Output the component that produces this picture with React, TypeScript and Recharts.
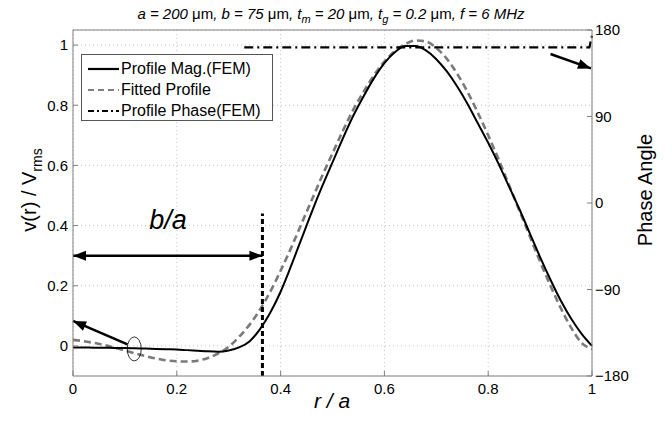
import React from 'react';
import {
  ComposedChart, Line, XAxis, YAxis, CartesianGrid, ReferenceLine, ReferenceDot, Legend,
} from 'recharts';

const FONT = '"Liberation Sans", Arial, sans-serif';

// radial position r/a
const xs = [
  0, 0.02, 0.04, 0.06, 0.08, 0.1, 0.12, 0.14, 0.16, 0.18,
  0.2, 0.22, 0.24, 0.26, 0.28, 0.3, 0.32, 0.34, 0.36, 0.38,
  0.4, 0.42, 0.44, 0.46, 0.48, 0.5, 0.52, 0.54, 0.56, 0.58,
  0.6, 0.62, 0.64, 0.66, 0.68, 0.7, 0.72, 0.74, 0.76, 0.78,
  0.8, 0.82, 0.84, 0.86, 0.88, 0.9, 0.92, 0.94, 0.96, 0.98, 1,
];

// Profile Mag.(FEM)
const mag = [
  -0.005, -0.005, -0.006, -0.006, -0.007, -0.007, -0.008, -0.009, -0.01, -0.011,
  -0.012, -0.014, -0.016, -0.018, -0.019, -0.015, -0.005, 0.015, 0.055, 0.11,
  0.18, 0.265, 0.355, 0.445, 0.53, 0.61, 0.69, 0.765, 0.83, 0.89,
  0.94, 0.976, 0.997, 0.997, 0.982, 0.953, 0.913, 0.863, 0.805, 0.74,
  0.675, 0.605, 0.53, 0.455, 0.375, 0.295, 0.22, 0.15, 0.09, 0.04, 0,
];

// Fitted Profile
const fit = [
  0.02, 0.016, 0.01, 0.003, -0.006, -0.015, -0.025, -0.034, -0.042, -0.048,
  -0.051, -0.052, -0.049, -0.04, -0.025, -0.003, 0.03, 0.07, 0.12, 0.18,
  0.25, 0.325, 0.405, 0.485, 0.565, 0.64, 0.715, 0.785, 0.845, 0.9,
  0.945, 0.98, 1.003, 1.015, 1.012, 0.99, 0.955, 0.905, 0.845, 0.775,
  0.7, 0.62, 0.535, 0.45, 0.365, 0.28, 0.2, 0.125, 0.06, 0.01, -0.01,
];

// Profile Phase(FEM), degrees
const phaseX = [0.33, 0.5, 0.7, 0.9, 0.995, 1];
const phase = [162, 162, 162, 162, 162, 174];

const xTicks = [0, 0.2, 0.4, 0.6, 0.8, 1];
const leftTicks = [0, 0.2, 0.4, 0.6, 0.8, 1];
const rightTicks = [-180, -90, 0, 90, 180];

const magData = xs.map((x, i) => ({ x, v: mag[i] }));
const fitData = xs.map((x, i) => ({ x, v: fit[i] }));
const phaseData = phaseX.map((x, i) => ({ x, v: phase[i] }));

const BOA = 0.365; // b/a marker

function head(x1: number, y1: number, x2: number, y2: number) {
  const a = Math.atan2(y2 - y1, x2 - x1);
  const L = 13, w = 5;
  const bx = x2 - L * Math.cos(a), by = y2 - L * Math.sin(a);
  const px = -Math.sin(a) * w, py = Math.cos(a) * w;
  return `${x2},${y2} ${bx + px},${by + py} ${bx - px},${by - py}`;
}

function arrow(both: boolean) {
  return (p: any) => {
    const { x1, y1, x2, y2 } = p;
    return (
      <g>
        <line x1={x1} y1={y1} x2={x2} y2={y2} stroke="#000" strokeWidth={2.5} />
        <polygon points={head(x1, y1, x2, y2)} fill="#000" />
        {both && <polygon points={head(x2, y2, x1, y1)} fill="#000" />}
      </g>
    );
  };
}

function LegendBox() {
  const rows = [
    { name: 'Profile Mag.(FEM)', color: '#000', dash: undefined as string | undefined },
    { name: 'Fitted Profile', color: '#808080', dash: '6 4' },
    { name: 'Profile Phase(FEM)', color: '#000', dash: '6 3 2 3' },
  ];
  return (
    <div style={{
      width: 192, height: 67, border: '1px solid #555', background: '#fff',
      padding: '3px 0 0 5px', boxSizing: 'border-box', fontFamily: FONT, fontSize: 16,
    }}>
      {rows.map(r => (
        <div key={r.name} style={{ display: 'flex', alignItems: 'center', height: 21 }}>
          <svg width={33} height={10} style={{ marginRight: 1 }}>
            <line x1={1} y1={5} x2={32} y2={5} stroke={r.color} strokeWidth={2.2} strokeDasharray={r.dash} />
          </svg>
          <span style={{ color: '#000' }}>{r.name}</span>
        </div>
      ))}
    </div>
  );
}

export default function App() {
  return (
    <div style={{ position: 'absolute', left: 0, top: 0, width: 672, height: 424, background: '#fff', fontFamily: FONT }}>
      <div style={{
        position: 'absolute', left: 0, top: 5, width: 662, textAlign: 'center',
        fontSize: 15, lineHeight: '17px', fontStyle: 'italic', color: '#000', zIndex: 2,
      }}>
        a = 200 <span style={{ fontStyle: 'normal' }}>μm</span>, b = 75 <span style={{ fontStyle: 'normal' }}>μm</span>,
        t<sub style={{ fontSize: 11 }}>m</sub> = 20 <span style={{ fontStyle: 'normal' }}>μm</span>,
        t<sub style={{ fontSize: 11 }}>g</sub> = 0.2 <span style={{ fontStyle: 'normal' }}>μm</span>, f = 6 MHz
      </div>
      <ComposedChart width={672} height={424} margin={{ top: 30, right: 30, bottom: 18, left: 23 }}>
        <CartesianGrid yAxisId="left" stroke="#c4c4c4" strokeDasharray="1 3" />
        <XAxis
          type="number" dataKey="x" domain={[0, 1]} ticks={xTicks} height={30}
          stroke="#808080" tickSize={-5} tickMargin={12}
          tick={{ fill: '#000', fontSize: 15, fontFamily: FONT }}
          label={{
            content: () => (
              <text x={332} y={408} textAnchor="middle" fontSize={21} fontStyle="italic" fontFamily={FONT} fill="#000">r / a</text>
            ),
          }}
        />
        <YAxis
          yAxisId="left" orientation="left" type="number" domain={[-0.1, 1.05]} ticks={leftTicks}
          allowDataOverflow width={50} stroke="#808080" tickSize={-5} tickMargin={10}
          tick={{ fill: '#000', fontSize: 15, fontFamily: FONT }}
          label={{
            content: () => (
              <text x={36} y={190} transform="rotate(-90 36 190)" textAnchor="middle" fontSize={20} fontFamily={FONT} fill="#000">
                v(r) / V<tspan dy={6} fontSize={14}>rms</tspan>
              </text>
            ),
          }}
        />
        <YAxis
          yAxisId="right" orientation="right" type="number" domain={[-180, 180]} ticks={rightTicks}
          allowDataOverflow width={50} stroke="#808080" tickSize={-5} tickMargin={8}
          tickFormatter={(v: number) => (v < 0 ? `\u2212${-v}` : String(v))}
          tick={{ fill: '#000', fontSize: 15, fontFamily: FONT }}
          label={{
            content: () => (
              <text x={652} y={190} transform="rotate(-90 652 190)" textAnchor="middle" fontSize={20} fontFamily={FONT} fill="#000">Phase Angle</text>
            ),
          }}
        />
        <ReferenceLine yAxisId="left" y={1.05} stroke="#808080" ifOverflow="visible" />

        <Line yAxisId="left" data={fitData} dataKey="v" type="monotone" stroke="#7a7a7a" strokeWidth={2.6}
          strokeDasharray="7 4" dot={false} isAnimationActive={false} name="Fitted Profile" />
        <Line yAxisId="left" data={magData} dataKey="v" type="monotone" stroke="#000" strokeWidth={2}
          dot={false} isAnimationActive={false} name="Profile Mag.(FEM)" />
        <Line yAxisId="right" data={phaseData} dataKey="v" type="linear" stroke="#000" strokeWidth={2.2}
          strokeDasharray="9 4 2 4" dot={false} isAnimationActive={false} name="Profile Phase(FEM)" />

        <ReferenceLine yAxisId="left" segment={[{ x: BOA, y: -0.1 }, { x: BOA, y: 0.44 }]}
          stroke="#000" strokeWidth={3} strokeDasharray="5 3" ifOverflow="visible" />
        <ReferenceLine yAxisId="left" segment={[{ x: 0, y: 0.3 }, { x: BOA, y: 0.3 }]}
          shape={arrow(true)} ifOverflow="visible" />
        <ReferenceLine yAxisId="left" segment={[{ x: 0.105, y: 0.005 }, { x: 0, y: 0.083 }]}
          shape={arrow(false)} ifOverflow="visible" />
        <ReferenceLine yAxisId="right" segment={[{ x: 0.92, y: 155 }, { x: 0.998, y: 140 }]}
          shape={arrow(false)} ifOverflow="visible" />
        <ReferenceDot yAxisId="left" x={0.118} y={-0.01} r={0} ifOverflow="visible"
          shape={(p: any) => <ellipse cx={p.cx} cy={p.cy} rx={7} ry={12} fill="none" stroke="#000" strokeWidth={0.8} />} />
        <ReferenceDot yAxisId="left" x={0.183} y={0.42} r={0} ifOverflow="visible"
          shape={(p: any) => (
            <text x={p.cx} y={p.cy} textAnchor="middle" dominantBaseline="central" fontSize={27} fontStyle="italic" fontFamily={FONT} fill="#000">b/a</text>
          )} />

        <Legend layout="horizontal" verticalAlign="middle" align="center" content={() => <LegendBox />}
          wrapperStyle={{ position: 'absolute', left: 81, top: 54, width: 'auto' }} />
      </ComposedChart>
    </div>
  );
}
